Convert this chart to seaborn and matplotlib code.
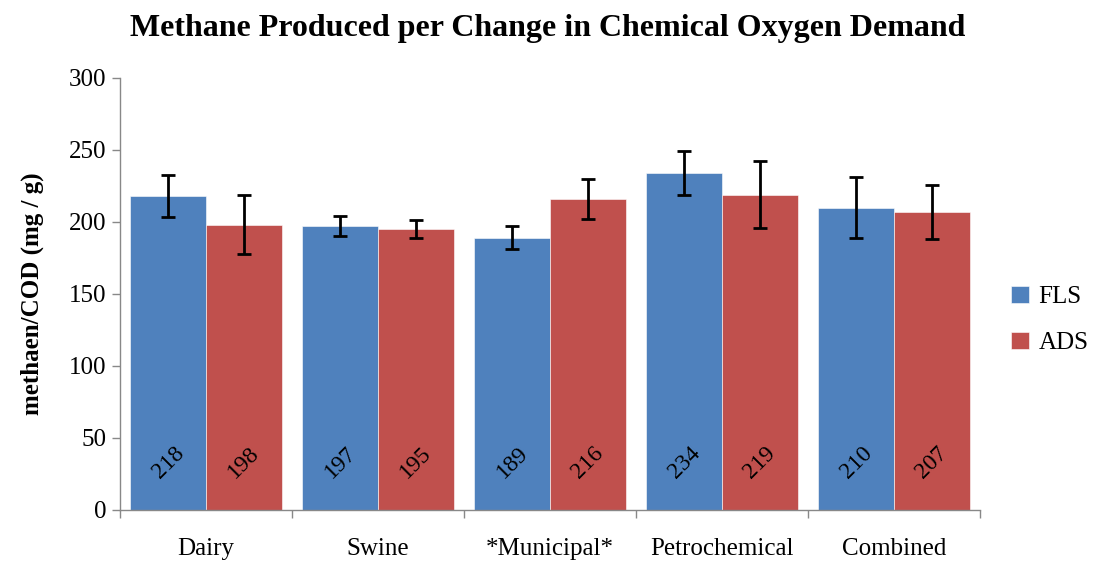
import pandas as pd
import matplotlib
matplotlib.use("Agg")
import matplotlib.pyplot as plt
import seaborn as sns

# data
categories = ["Dairy", "Swine", "*Municipal*", "Petrochemical", "Combined"]
fls_values = [218, 197, 189, 234, 210]
ads_values = [198, 195, 216, 219, 207]
fls_err = [14.5, 7, 8, 15.5, 21]
ads_err = [20.5, 6.3, 14, 23.5, 19]
series = ["FLS", "ADS"]
colors = ["#4F81BD", "#C0504D"]

df = pd.DataFrame({
    "category": categories * 2,
    "series": [series[0]] * len(categories) + [series[1]] * len(categories),
    "value": fls_values + ads_values,
    "err": fls_err + ads_err,
})

sns.set_theme(style="white")
plt.rcParams["font.family"] = ["Liberation Serif", "DejaVu Serif"]
plt.rcParams["text.color"] = "black"
plt.rcParams["axes.labelcolor"] = "black"

fig = plt.figure(figsize=(10.95, 5.62), dpi=100)
ax = fig.add_axes([120 / 1095, 52 / 562, 860 / 1095, 432 / 562])

sns.barplot(
    data=df, x="category", y="value", hue="series",
    palette=colors, order=categories, hue_order=series,
    width=0.88, gap=0, errorbar=None, ax=ax, saturation=1,
    edgecolor="white", linewidth=0.4,
)

# error bars and rotated value labels
for cont, s in zip(ax.containers, series):
    sub = df[df["series"] == s].set_index("category").loc[categories]
    for bar, v, e in zip(cont, sub["value"], sub["err"]):
        xc = bar.get_x() + bar.get_width() / 2
        ax.errorbar(xc, v, yerr=e, fmt="none", ecolor="black",
                    elinewidth=2, capsize=5, capthick=2)
        ax.text(xc, 33, f"{v:g}", rotation=45, ha="center", va="center",
                fontsize=17, color="black")

ax.set_ylim(0, 300)
ax.set_xlim(-0.5, len(categories) - 0.5)
ax.set_yticks(range(0, 301, 50))
ax.tick_params(axis="y", labelsize=18, left=True, length=6, color="#888888",
               width=1, pad=4, labelcolor="black")
ax.tick_params(axis="x", labelsize=18, bottom=False, pad=14,
               labelcolor="black")
ax.set_xticks([i - 0.5 for i in range(len(categories) + 1)], minor=True)
ax.tick_params(axis="x", which="minor", bottom=True, length=6,
               color="#888888", width=1)

for side in ["top", "right"]:
    ax.spines[side].set_visible(False)
for side in ["left", "bottom"]:
    ax.spines[side].set_color("#888888")
    ax.spines[side].set_linewidth(1)

ax.set_xlabel("")
ax.set_ylabel("methaen/COD (mg / g)", fontsize=18, fontweight="bold",
              labelpad=18)
fig.suptitle("Methane Produced per Change in Chemical Oxygen Demand",
             fontsize=23, fontweight="bold", x=548 / 1095, y=0.975,
             color="black")

ax.legend(loc="center left", bbox_to_anchor=(1.01, 0.44), frameon=False,
          fontsize=18, handlelength=0.7, handleheight=0.7,
          handletextpad=0.4, labelspacing=0.95)

fig.savefig("out.png", dpi=100)
